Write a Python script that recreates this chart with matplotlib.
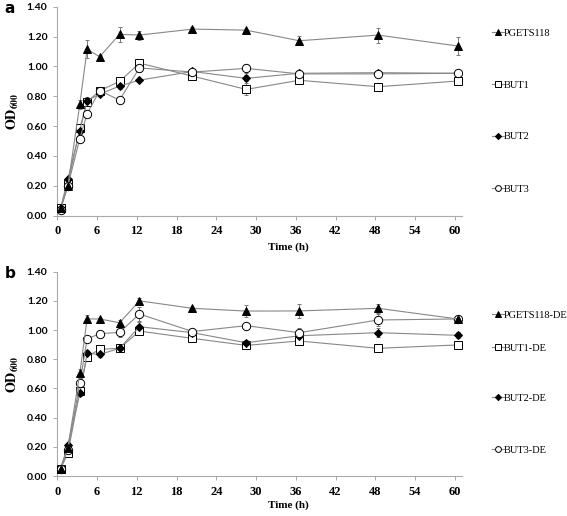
import matplotlib
matplotlib.use("Agg")
import matplotlib.pyplot as plt

plt.rcParams['mathtext.fontset'] = 'stix'

# sampling times (h)
time = [0.5, 1.6, 3.4, 4.5, 6.4, 9.4, 12.4, 20.4, 28.5, 36.5, 48.4, 60.4]

# panel a
a_labels = ['PGETS118', 'BUT1', 'BUT2', 'BUT3']
a_pgets = [0.05, 0.20, 0.745, 1.115, 1.065, 1.215, 1.21, 1.25, 1.243, 1.172, 1.21, 1.137]
a_but1 = [0.05, 0.21, 0.585, 0.763, 0.837, 0.90, 1.022, 0.935, 0.846, 0.907, 0.864, 0.902]
a_but2 = [0.05, 0.245, 0.567, 0.77, 0.815, 0.868, 0.908, 0.966, 0.92, 0.954, 0.958, 0.954]
a_but3 = [0.04, 0.20, 0.516, 0.683, 0.837, 0.775, 0.99, 0.962, 0.987, 0.95, 0.95, 0.954]
a_err_pgets = [0, 0.01, 0.03, 0.06, 0.01, 0.05, 0.03, 0.015, 0.01, 0.03, 0.05, 0.06]
a_err_but1 = [0, 0.01, 0.02, 0.03, 0.02, 0.02, 0.02, 0.01, 0.04, 0.01, 0.01, 0.02]
a_err_but2 = [0, 0.01, 0.02, 0.02, 0.01, 0.02, 0.01, 0.01, 0.02, 0.01, 0.01, 0.02]
a_err_but3 = [0, 0.01, 0.02, 0.02, 0.02, 0.02, 0.03, 0.01, 0.03, 0.01, 0.01, 0.02]

# panel b
b_labels = ['PGETS118-DE', 'BUT1-DE', 'BUT2-DE', 'BUT3-DE']
b_pgets = [0.05, 0.194, 0.703, 1.076, 1.076, 1.05, 1.20, 1.149, 1.13, 1.131, 1.149, 1.076]
b_but1 = [0.05, 0.155, 0.585, 0.818, 0.868, 0.875, 0.993, 0.943, 0.895, 0.925, 0.875, 0.898]
b_but2 = [0.05, 0.212, 0.566, 0.84, 0.833, 0.875, 1.023, 0.982, 0.913, 0.961, 0.982, 0.964]
b_but3 = [0.05, 0.18, 0.635, 0.939, 0.975, 0.984, 1.11, 0.99, 1.03, 0.982, 1.069, 1.076]
b_err_pgets = [0, 0.01, 0.03, 0.03, 0.01, 0.02, 0.02, 0.01, 0.04, 0.05, 0.03, 0.02]
b_err_but1 = [0, 0.01, 0.02, 0.02, 0.02, 0.02, 0.02, 0.01, 0.02, 0.02, 0.01, 0.02]
b_err_but2 = [0, 0.01, 0.02, 0.02, 0.02, 0.02, 0.03, 0.02, 0.02, 0.02, 0.03, 0.02]
b_err_but3 = [0, 0.01, 0.02, 0.02, 0.02, 0.03, 0.05, 0.02, 0.02, 0.03, 0.04, 0.02]

markers = ['^', 's', 'D', 'o']
faces = ['black', 'white', 'black', 'white']
sizes = [6, 5.5, 4.5, 6]

fig = plt.figure(figsize=(5.67, 5.16), dpi=100)
ax_a = fig.add_axes([0.101, 0.582, 0.713, 0.405])
ax_b = fig.add_axes([0.101, 0.0775, 0.713, 0.396])

panels = [
    (ax_a, 'a', a_labels, [a_pgets, a_but1, a_but2, a_but3],
     [a_err_pgets, a_err_but1, a_err_but2, a_err_but3],
     [0.936, 0.835, 0.735, 0.633], 0.521),
    (ax_b, 'b', b_labels, [b_pgets, b_but1, b_but2, b_but3],
     [b_err_pgets, b_err_but1, b_err_but2, b_err_but3],
     [0.389, 0.325, 0.228, 0.128], 0.021),
]

for ax, letter, labels, series, errs, leg_y, xlab_y in panels:
    handles = []
    for i in range(4):
        ax.errorbar(time, series[i], yerr=errs[i], fmt='none', ecolor='#777777',
                    elinewidth=0.7, capsize=1.5, capthick=0.7, zorder=2)
        h, = ax.plot(time, series[i], color='#888888', lw=0.8, marker=markers[i],
                     ms=sizes[i], mfc=faces[i], mec='black', mew=0.7, zorder=3 + (i == 0))
        handles.append(h)

    ax.set_xlim(0, 61)
    ax.set_ylim(0, 1.4)
    ax.set_xticks(range(0, 61, 6))
    ax.set_yticks([0, 0.2, 0.4, 0.6, 0.8, 1.0, 1.2, 1.4])
    ax.set_yticklabels(['%.2f' % v for v in ax.get_yticks()],
                       fontfamily='Lato', fontweight='bold', fontsize=7.5)
    ax.set_xticklabels([str(v) for v in range(0, 61, 6)],
                       fontfamily='Liberation Serif', fontweight='bold', fontsize=9)
    ax.tick_params(axis='both', length=3, width=0.6, color='#999999', pad=4)
    for s in ['top', 'right']:
        ax.spines[s].set_visible(False)
    for s in ['left', 'bottom']:
        ax.spines[s].set_color('#aaaaaa')
        ax.spines[s].set_linewidth(0.8)

    ax.set_ylabel(r'$\mathbf{OD_{600}}$', fontsize=10, labelpad=4)
    fig.text(0.508, xlab_y, 'Time (h)', fontfamily='Liberation Serif',
             fontweight='bold', fontsize=8, ha='center', va='center')
    top = ax.get_position().y1
    fig.text(0.008, top - 0.004, letter, fontfamily='DejaVu Sans',
             fontweight='bold', fontsize=11, va='center')

    for h, lab, y in zip(handles, labels, leg_y):
        fig.legend([h], [lab], loc='center left', bbox_to_anchor=(0.868, y),
                   frameon=False, handlelength=1.1, handletextpad=0.05,
                   borderpad=0, borderaxespad=0, markerscale=0.7,
                   prop={'family': 'Liberation Serif', 'size': 7.5})

fig.savefig('out.png', dpi=100)
